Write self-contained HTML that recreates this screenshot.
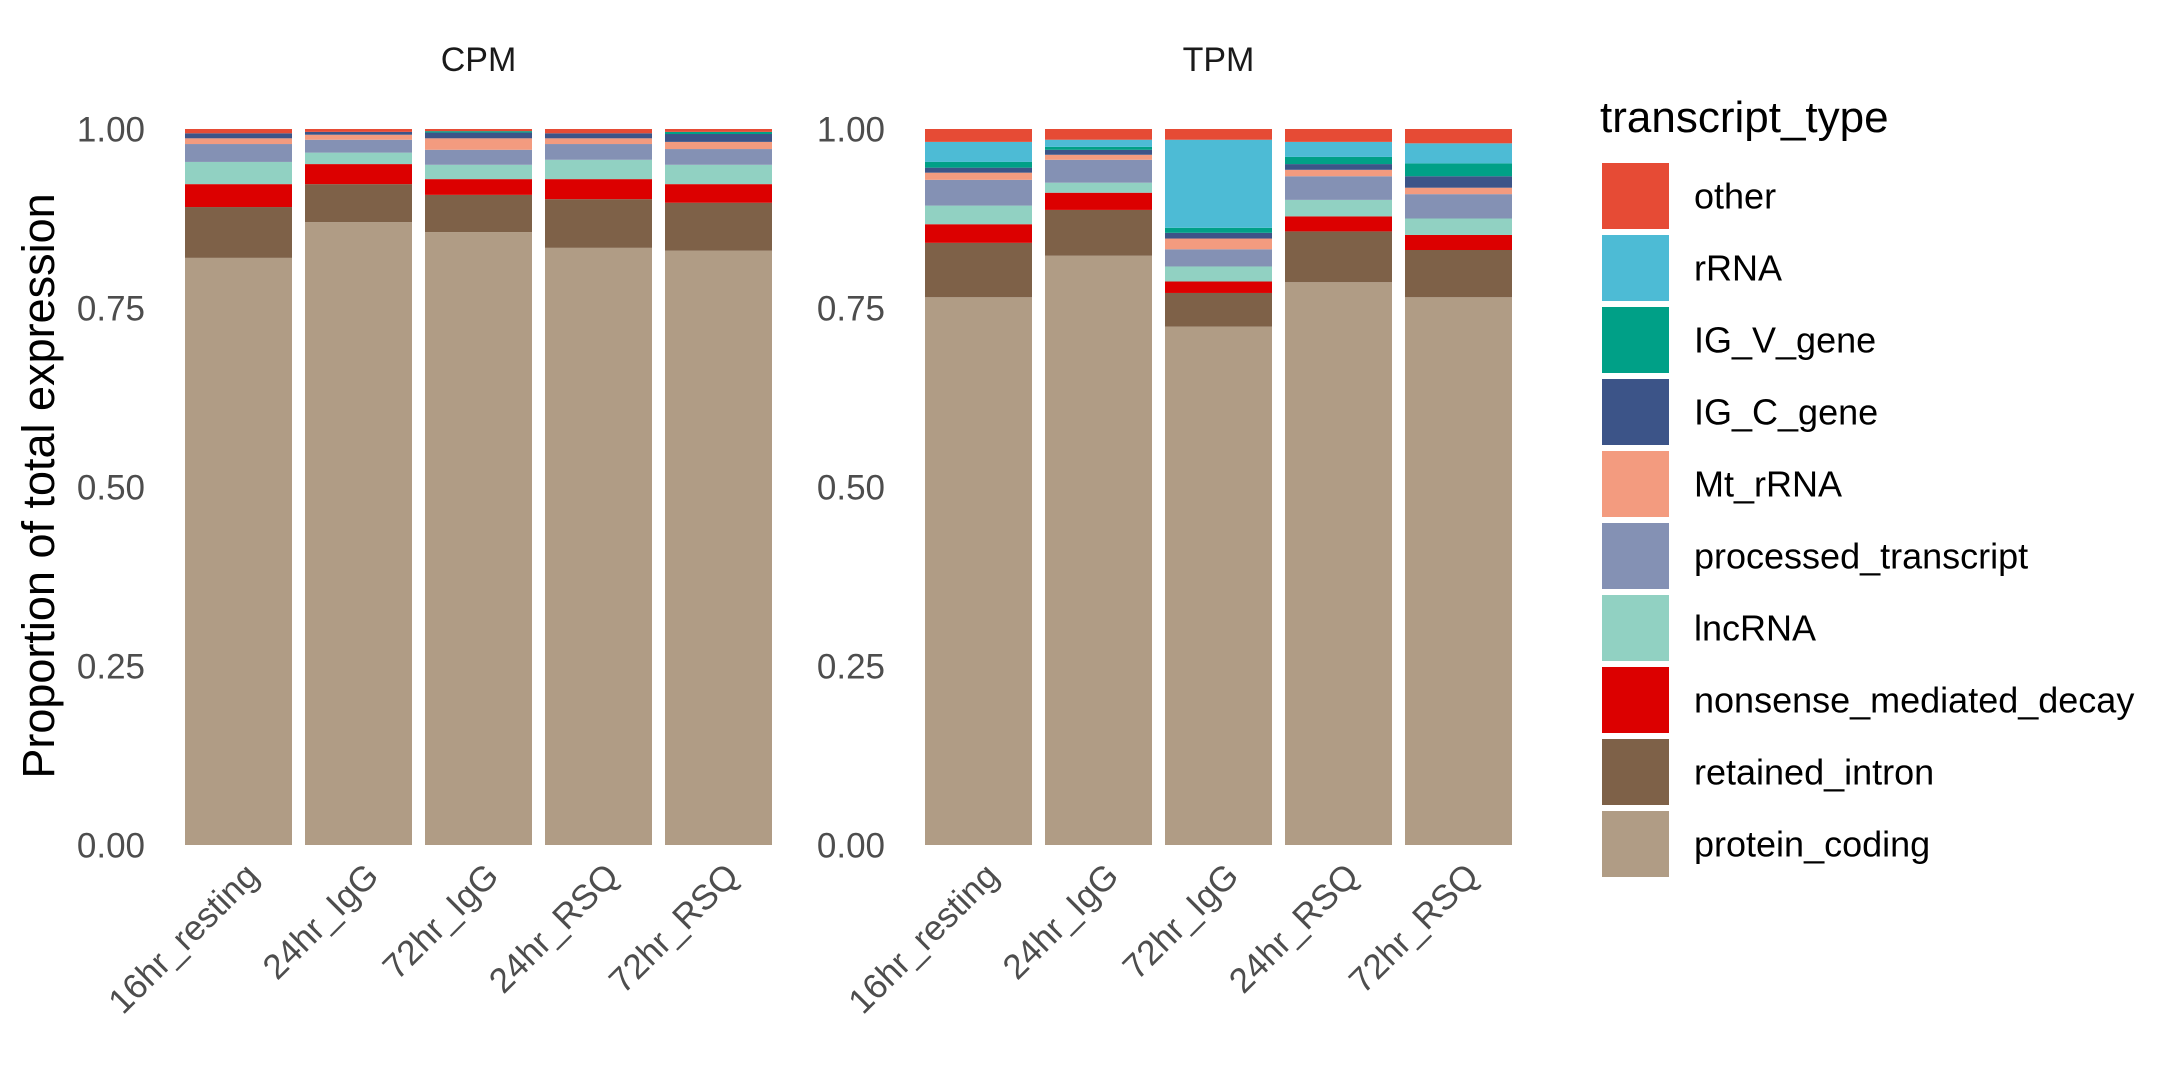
<!DOCTYPE html>
<html><head><meta charset="utf-8"><style>
html,body{margin:0;padding:0;background:#fff;}
svg{display:block;font-family:"Liberation Sans",Arial,sans-serif;}
</style></head><body>
<svg id="chart" width="2181" height="1090" viewBox="0 0 2181 1090" xmlns="http://www.w3.org/2000/svg">
<rect width="2181" height="1090" fill="#fff"/>
<g id="plot"></g>
</svg>
<script>
const samples = ["16hr_resting","24hr_IgG","72hr_IgG","24hr_RSQ","72hr_RSQ"];
const panels = ["CPM","TPM"];
const types = ["protein_coding","retained_intron","nonsense_mediated_decay","lncRNA","processed_transcript","Mt_rRNA","IG_C_gene","IG_V_gene","rRNA","other"];
const legendOrder = ["other","rRNA","IG_V_gene","IG_C_gene","Mt_rRNA","processed_transcript","lncRNA","nonsense_mediated_decay","retained_intron","protein_coding"];
const colors = {other:"#E64B35",rRNA:"#4DBBD5",IG_V_gene:"#00A087",IG_C_gene:"#3C5488",Mt_rRNA:"#F39B7F",processed_transcript:"#8491B4",lncRNA:"#91D1C2",nonsense_mediated_decay:"#DC0000",retained_intron:"#7E6148",protein_coding:"#B09C85"};
const yTicks = [0,0.25,0.5,0.75,1.0];
const yTickLabels = ["0.00","0.25","0.50","0.75","1.00"];
// CPM values per transcript type (per sample)
const cpm_protein_coding = [0.820,0.870,0.856,0.834,0.830];
const cpm_retained_intron = [0.071,0.053,0.052,0.068,0.067];
const cpm_nmd = [0.032,0.028,0.022,0.028,0.026];
const cpm_lncRNA = [0.031,0.016,0.020,0.027,0.027];
const cpm_processed = [0.025,0.018,0.021,0.022,0.022];
const cpm_Mt_rRNA = [0.008,0.007,0.016,0.008,0.010];
const cpm_IG_C = [0.007,0.004,0.008,0.007,0.011];
const cpm_IG_V = [0.000,0.000,0.002,0.000,0.003];
const cpm_rRNA = [0.000,0.000,0.000,0.000,0.000];
const cpm_other = [0.006,0.004,0.003,0.006,0.004];
// TPM values
const tpm_protein_coding = [0.765,0.823,0.724,0.786,0.765];
const tpm_retained_intron = [0.076,0.064,0.047,0.071,0.066];
const tpm_nmd = [0.026,0.024,0.016,0.021,0.021];
const tpm_lncRNA = [0.026,0.014,0.021,0.023,0.023];
const tpm_processed = [0.036,0.032,0.024,0.033,0.034];
const tpm_Mt_rRNA = [0.010,0.007,0.015,0.009,0.009];
const tpm_IG_C = [0.007,0.007,0.008,0.008,0.016];
const tpm_IG_V = [0.008,0.004,0.007,0.010,0.018];
const tpm_rRNA = [0.028,0.010,0.123,0.021,0.028];
const tpm_other = [0.018,0.015,0.015,0.018,0.020];

const series = {
  CPM:[cpm_protein_coding,cpm_retained_intron,cpm_nmd,cpm_lncRNA,cpm_processed,cpm_Mt_rRNA,cpm_IG_C,cpm_IG_V,cpm_rRNA,cpm_other],
  TPM:[tpm_protein_coding,tpm_retained_intron,tpm_nmd,tpm_lncRNA,tpm_processed,tpm_Mt_rRNA,tpm_IG_C,tpm_IG_V,tpm_rRNA,tpm_other]
};

const NS="http://www.w3.org/2000/svg";
const g=document.getElementById('plot');
function mk(tag,attrs,parent){const e=document.createElementNS(NS,tag);for(const k in attrs)e.setAttribute(k,attrs[k]);(parent||g).appendChild(e);return e;}
const y0=845,y1=129;
function yScale(v){return y0-(y0-y1)*v;}
const panelGeom={CPM:{first:238.5,tickX:145},TPM:{first:978.5,tickX:885}};
const pitch=120,barW=107;
function xScale(p,i){return panelGeom[p].first+pitch*i;}

panels.forEach(p=>{
  const st=mk('text',{x:(xScale(p,0)+xScale(p,4))/2,y:71,'text-anchor':'middle','font-size':34,fill:'#1a1a1a'});
  st.textContent=p;
  
  
  yTicks.forEach((t,k)=>{
    const tl=mk('text',{x:panelGeom[p].tickX,y:yScale(t)+12.5,'text-anchor':'end','font-size':35,fill:'#4D4D4D'});
    tl.textContent=yTickLabels[k];
    
    
  });
  samples.forEach((s,i)=>{
    const cx=xScale(p,i);
    let cum=0;
    types.forEach((t,j)=>{
      const v=series[p][j][i];
      if(v<=0){return;}
      const top=yScale(cum+v), bot=yScale(cum);
      const r=mk('rect',{x:cx-barW/2,y:top,width:barW,height:bot-top,fill:colors[t]});
      
      
      cum+=v;
    });
    const ax=cx+22, ay=878;
    const xl=mk('text',{x:ax,y:ay,'text-anchor':'end','font-size':35,fill:'#4D4D4D',transform:`rotate(-45 ${ax} ${ay})`});
    xl.textContent=s;
    
    
  });
});

const yt=mk('text',{x:54,y:486,'text-anchor':'middle','font-size':45,fill:'#000',transform:'rotate(-90 54 486)'});
yt.textContent='Proportion of total expression';



const lt=mk('text',{x:1600,y:132,'font-size':44,fill:'#000'});
lt.textContent='transcript_type';


legendOrder.forEach((t,i)=>{
  const ky=163+72*i;
  const k=mk('rect',{x:1602,y:ky,width:67,height:66,fill:colors[t]});
  
  
  const l=mk('text',{x:1694,y:ky+33+12.5,'font-size':36,fill:'#000'});
  l.textContent=t;
  
  
});
</script>
</body></html>
